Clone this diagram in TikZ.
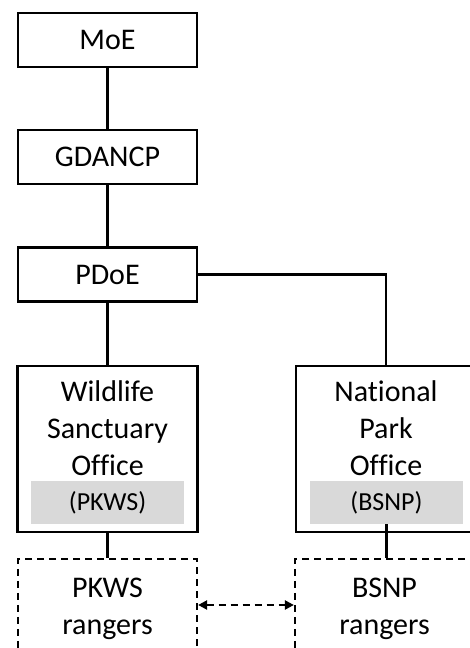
\documentclass[tikz,border=0pt]{standalone}
\usepackage{fontspec}
\setmainfont{Carlito}[Ligatures=NoCommon]
\usepackage{xcolor}
\usepackage{tikz}
\usetikzlibrary{positioning, arrows.meta}
\definecolor{taggray}{RGB}{217,217,217}

\begin{document}
\begin{tikzpicture}[x=1pt, y=1pt,
    unit/.style={rectangle, draw, line width=2.2pt, minimum width=179pt, minimum height=54pt, inner sep=0pt, font=\fontsize{30}{37}\selectfont},
    office/.style={unit, minimum width=180pt, minimum height=166pt},
    officetext/.style={align=center, inner sep=0pt, font=\fontsize{30}{37}\selectfont},
    tag/.style={rectangle, fill=taggray, minimum width=153pt, minimum height=43pt, inner sep=0pt, font=\fontsize{26}{31}\selectfont},
    rangers/.style={unit, dash pattern=on 7pt off 5pt, minimum height=100pt, align=center},
    link/.style={line width=2.2pt}
]
\useasboundingbox (0,0) rectangle (470,648);

\node[unit] (moe) at (107.5, 608) {MoE};
\node[unit] (gdancp) at (107.5, 491) {GDANCP};
\node[unit] (pdoe) at (107.5, 373.5) {PDoE};

\node[office] (wso) at (107.5, 199) {};
\node[officetext] (wsoname) at (107.5, 220) {Wildlife\\Sanctuary\\Office};
\node[tag] (wsotag) at (107.5, 145.5) {(PKWS)};

\node[office] (npo) at (386, 199) {};
\node[officetext] (nponame) at (386, 220) {National\\Park\\Office};
\node[tag] (npotag) at (386.5, 145.5) {(BSNP)};

\node[rangers] (pkws) at (107.5, 39) {PKWS\\rangers};
\node[rangers] (bsnp) at (384.5, 39) {BSNP\\rangers};

\draw[link] (moe) -- (gdancp);
\draw[link] (gdancp) -- (pdoe);
\draw[link] (pdoe) -- (wso);
\draw[link] (pdoe.east) -| (npo.north);
\draw[link] (wso) -- (pkws);
\draw[link] (npotag.south) -- (npotag.south |- bsnp.north);
\draw[link, dash pattern=on 7pt off 5pt, {Triangle[length=9pt, width=9pt]}-{Triangle[length=9pt, width=9pt]}] ([yshift=4pt]pkws.east) -- ([yshift=4pt]bsnp.west);

\end{tikzpicture}
\end{document}
